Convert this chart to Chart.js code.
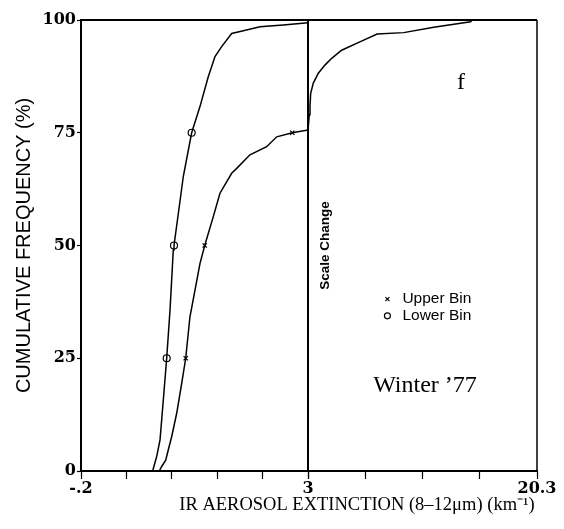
<!DOCTYPE html>
<html>
<head>
<meta charset="utf-8">
<script src="https://cdn.jsdelivr.net/npm/chart.js@4.4.1/dist/chart.umd.min.js"></script>
<style>
  body { margin: 0; background: #fff; }
  #wrap { width: 564px; height: 529px; }
</style>
</head>
<body>
<div id="wrap"><canvas id="chart" width="564" height="529"></canvas></div>
<script>
// Lower bin curve, left panel (-.2 .. 3)
const lowerBinX = [0.81, 0.867, 0.914, 0.96, 1.008, 1.055, 1.101, 1.111, 1.172, 1.242, 1.36, 1.477, 1.594, 1.689, 1.783, 1.924, 2.088, 2.323, 2.652, 3.0];
const lowerBinY = [0, 3.2, 6.9, 15.7, 25, 35.7, 49, 50, 57.1, 65.3, 75, 80.8, 87.4, 91.9, 94.1, 97.0, 97.6, 98.5, 98.9, 99.4];

// Upper bin curve, left panel
const upperBinX = [0.904, 0.937, 0.994, 1.031, 1.078, 1.149, 1.219, 1.276, 1.336, 1.407, 1.477, 1.544, 1.665, 1.759, 1.924, 1.995, 2.182, 2.417, 2.559, 2.779, 3.0];
const upperBinY = [0, 1, 2.4, 4.7, 7.6, 12.8, 19.4, 25, 34.2, 40.1, 46.0, 50, 56.4, 61.6, 66.0, 67.1, 70.1, 71.9, 74.1, 75, 75.6];

// Upper bin curve, right panel (3 .. 20.3)
const upperRightX = [3.0, 3.1, 3.15, 3.2, 3.4, 3.78, 4.28, 4.79, 5.54, 6.96, 8.22, 10.23, 12.5, 15.28, 15.4];
const upperRightY = [75.6, 79, 80.8, 83.7, 86, 88.2, 90, 91.5, 93.3, 95.2, 96.9, 97.2, 98.4, 99.6, 100];

// Quartile markers
const lowerMarkX = [1.008, 1.111, 1.36];
const upperMarkX = [1.276, 1.544, 2.779];
const markY = [25, 50, 75];

// Axes
const leftTicks = [-0.2, 0.44, 1.08, 1.72, 2.36, 3];
const leftLabels = ["-.2", "", "", "", "", "3"];
const rightTicks = [3, 7.325, 11.65, 15.975, 20.3];
const rightLabels = ["", "", "", "", "20.3"];
const yTicks = [0, 25, 50, 75, 100];

const pts = (xs, ys) => xs.map((x, i) => ({ x: x, y: ys[i] }));

// frame + text that sits on the chart
const overlay = {
  id: "overlay",
  afterDraw(chart) {
    const ctx = chart.ctx;
    const a = chart.chartArea;
    const xl = chart.scales.xl, xr = chart.scales.xr, y = chart.scales.y;
    ctx.save();
    ctx.strokeStyle = "#000";
    ctx.lineWidth = 2;
    ctx.beginPath();
    ctx.moveTo(a.left, a.top); ctx.lineTo(a.right, a.top);
    ctx.stroke();
    ctx.lineWidth = 1.5;
    ctx.beginPath();
    ctx.moveTo(a.right, a.top); ctx.lineTo(a.right, a.bottom);
    ctx.stroke();
    const sx = xl.getPixelForValue(3);
    ctx.lineWidth = 2;
    ctx.beginPath();
    ctx.moveTo(sx, a.top); ctx.lineTo(sx, a.bottom);
    ctx.stroke();

    ctx.fillStyle = "#000";
    ctx.textBaseline = "middle";
    ctx.textAlign = "center";
    ctx.font = "24px 'Liberation Serif'";
    ctx.fillText("f", xr.getPixelForValue(14.56), y.getPixelForValue(86));
    ctx.fillText("Winter \u201977", xr.getPixelForValue(11.84), y.getPixelForValue(19));

    // legend
    const lx = xr.getPixelForValue(9.0);
    const uy = y.getPixelForValue(38.1), ly = y.getPixelForValue(34.4);
    ctx.font = "15.5px 'Liberation Sans'";
    ctx.textAlign = "left";
    ctx.fillText("Upper Bin", lx + 15, uy);
    ctx.fillText("Lower Bin", lx + 15, ly);
    ctx.lineWidth = 1.2;
    ctx.beginPath();
    ctx.moveTo(lx - 2, uy - 2); ctx.lineTo(lx + 2, uy + 2);
    ctx.moveTo(lx + 2, uy - 2); ctx.lineTo(lx - 2, uy + 2);
    ctx.stroke();
    ctx.beginPath();
    ctx.arc(lx, ly, 3, 0, Math.PI * 2);
    ctx.stroke();

    // scale change note
    ctx.save();
    ctx.translate(xr.getPixelForValue(4.3), y.getPixelForValue(50));
    ctx.rotate(-Math.PI / 2);
    ctx.textAlign = "center";
    ctx.font = "bold 13.5px 'Liberation Sans'";
    ctx.fillText("Scale Change", 0, 0);
    ctx.restore();

    // x title
    ctx.textAlign = "center";
    ctx.font = "18.5px 'Liberation Serif'";
    ctx.fillText("IR AEROSOL EXTINCTION (8\u201312\u03bcm) (km\u207b\u00b9)", 357, 505);
    ctx.restore();
  }
};

const xGrid = { drawOnChartArea: false, color: "#000", tickLength: 8, tickWidth: 1.2 };
const tickFont = { family: "'DejaVu Serif'", size: 16, weight: "bold" };

new Chart(document.getElementById("chart"), {
  type: "scatter",
  data: {
    datasets: [
      { data: pts(lowerBinX, lowerBinY), xAxisID: "xl", showLine: true, borderColor: "#000", borderWidth: 1.5, pointRadius: 0 },
      { data: pts(upperBinX, upperBinY), xAxisID: "xl", showLine: true, borderColor: "#000", borderWidth: 1.5, pointRadius: 0 },
      { data: pts(upperRightX, upperRightY), xAxisID: "xr", showLine: true, borderColor: "#000", borderWidth: 1.5, pointRadius: 0 },
      { data: pts(lowerMarkX, markY), xAxisID: "xl", pointStyle: "circle", pointRadius: 3.5, borderColor: "#000", backgroundColor: "#fff", borderWidth: 1.2 },
      { data: pts(upperMarkX, markY), xAxisID: "xl", pointStyle: "crossRot", pointRadius: 3, borderColor: "#000", borderWidth: 1.3 }
    ]
  },
  options: {
    responsive: false,
    animation: false,
    layout: { padding: { top: 20, right: 27, left: 0, bottom: 0 } },
    plugins: { legend: { display: false }, tooltip: { enabled: false } },
    scales: {
      xl: {
        type: "linear", position: "bottom", stack: "x", stackWeight: 227,
        min: -0.2, max: 3,
        afterBuildTicks: s => { s.ticks = leftTicks.map(v => ({ value: v })); },
        afterFit: s => { s.height = 58; },
        grid: xGrid,
        border: { display: true, color: "#000", width: 2 },
        ticks: { color: "#000", font: tickFont, padding: 0, maxRotation: 0, autoSkip: false,
                 callback: (v, i) => leftLabels[i] }
      },
      xr: {
        type: "linear", position: "bottom", stack: "x", stackWeight: 229,
        min: 3, max: 20.3,
        afterBuildTicks: s => { s.ticks = rightTicks.map(v => ({ value: v })); },
        afterFit: s => { s.height = 58; },
        grid: xGrid,
        border: { display: true, color: "#000", width: 2 },
        ticks: { color: "#000", font: tickFont, padding: 0, maxRotation: 0, autoSkip: false,
                 callback: (v, i) => rightLabels[i] }
      },
      y: {
        min: 0, max: 100,
        afterBuildTicks: s => { s.ticks = yTicks.map(v => ({ value: v })); },
        afterFit: s => { s.width = 81; },
        grid: { drawOnChartArea: false, color: "#000", tickLength: 4, tickWidth: 1.2 },
        border: { display: true, color: "#000", width: 2 },
        ticks: { color: "#000", font: tickFont, padding: 1 },
        title: { display: true, text: "CUMULATIVE FREQUENCY (%)", color: "#000",
                 font: { family: "'Liberation Sans'", size: 20 }, padding: { top: 12, bottom: 0 } }
      }
    }
  },
  plugins: [overlay]
});
</script>
</body>
</html>
